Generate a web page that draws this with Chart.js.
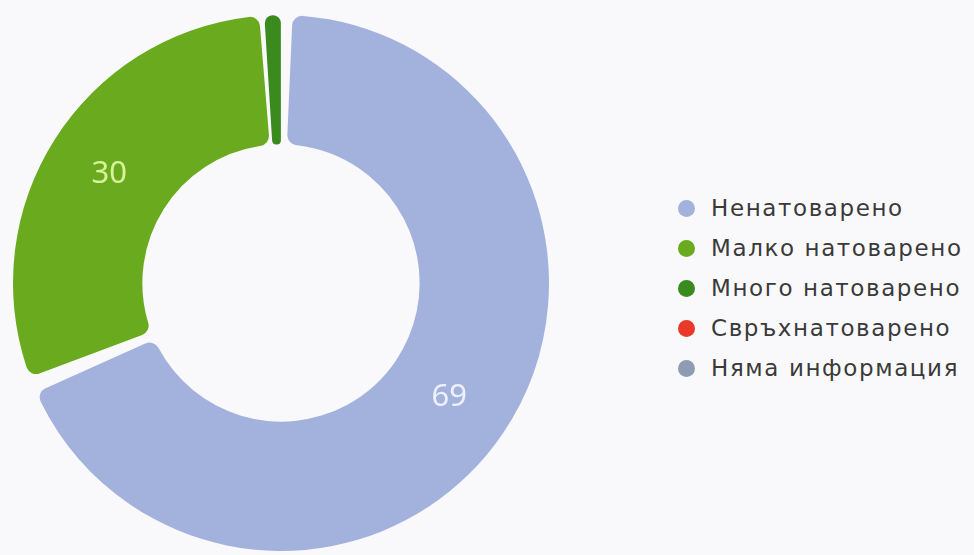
<!DOCTYPE html>
<html>
<head>
<meta charset="utf-8">
<script src="https://cdn.jsdelivr.net/npm/chart.js@4.4.1/dist/chart.umd.min.js"></script>
<style>
  html, body { margin: 0; padding: 0; background: #f9f9fb; }
  .wrap { position: relative; width: 974px; height: 555px; overflow: hidden; }
  .pie { position: absolute; left: 0; top: 0; width: 562px; height: 555px; }
  #legend { position: absolute; left: 678px; top: 188px; font-family: 'DejaVu Sans', sans-serif; }
  #legend .item { display: flex; align-items: center; height: 40px; font-size: 23px; color: #3a3a3a; letter-spacing: 1.6px; white-space: nowrap; }
  #legend .dot { width: 17px; height: 17px; border-radius: 50%; margin-right: 16px; flex-shrink: 0; }
</style>
</head>
<body>
<div class="wrap">
  <div class="pie"><canvas id="loadChart"></canvas></div>
  <div id="legend"></div>
</div>
<script>
const LABELS = ['Ненатоварено', 'Малко натоварено', 'Много натоварено', 'Свръхнатоварено', 'Няма информация'];
const VALUES = [69, 30, 1, 0, 0];
const COLORS = ['#a3b2dc', '#6aaa1e', '#3b8a1e', '#e8392b', '#8d9cb3'];
const LABEL_COLORS = ['#eef0fa', '#d9f29b', '#ffffff', '#ffffff', '#ffffff'];

// value labels in the middle of each slice
const sliceLabels = {
  id: 'sliceLabels',
  afterDatasetsDraw(chart) {
    const { ctx } = chart;
    chart.getDatasetMeta(0).data.forEach((arc, i) => {
      const v = VALUES[i];
      if (v < 5) return;
      const p = arc.tooltipPosition();
      ctx.save();
      ctx.font = "31px 'Noto Sans', sans-serif";
      ctx.fillStyle = LABEL_COLORS[i];
      ctx.textAlign = 'center';
      ctx.textBaseline = 'middle';
      ctx.fillText(String(v), p.x, p.y);
      ctx.restore();
    });
  },
};

const chart = new Chart(document.getElementById('loadChart'), {
  type: 'doughnut',
  data: {
    labels: LABELS,
    datasets: [{
      data: VALUES,
      backgroundColor: COLORS,
      borderWidth: 0,
      borderRadius: 10,
      spacing: 8,
    }],
  },
  options: {
    responsive: true, maintainAspectRatio: false, animation: false,
    cutout: '51%',
    layout: { padding: { top: 15, bottom: 4, left: 13, right: 13 } },
    plugins: { legend: { display: false }, tooltip: { enabled: false } },
  },
  plugins: [sliceLabels],
});

// html legend from the chart's own legend items
const items = chart.options.plugins.legend.labels.generateLabels(chart);
document.getElementById('legend').innerHTML = items.map(it =>
  `<div class="item"><span class="dot" style="background:${it.fillStyle}"></span><span>${it.text}</span></div>`
).join('');
</script>
</body>
</html>
